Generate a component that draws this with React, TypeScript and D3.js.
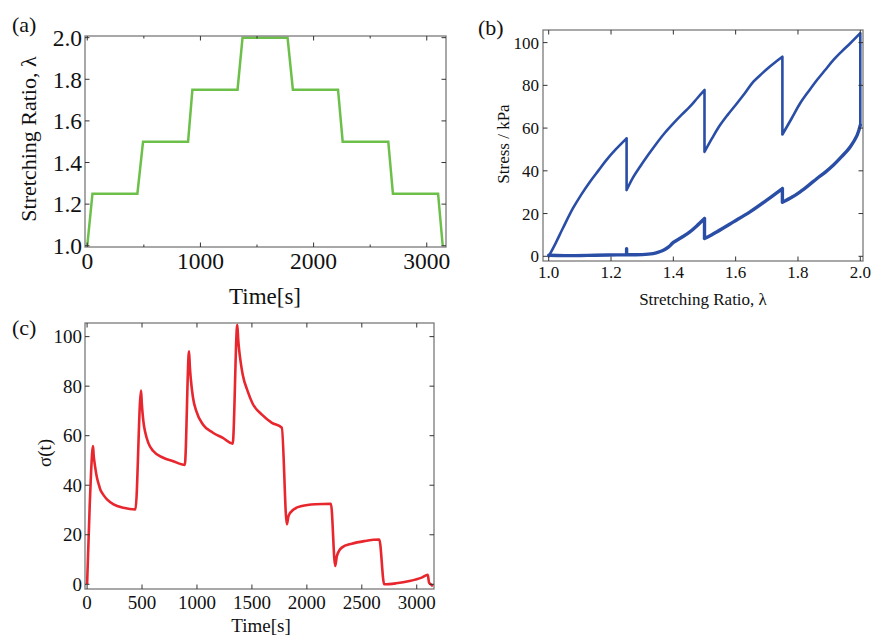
import React from "react";
import * as d3 from "d3";

// ---------- Data ----------
// (a) stretching ratio vs time
const lambdaTime = [0, 46, 443, 493, 891, 929, 1328, 1372, 1770, 1817, 2216, 2257, 2660, 2701, 3100, 3141];
const lambdaValue = [1.0, 1.25, 1.25, 1.5, 1.5, 1.75, 1.75, 2.0, 2.0, 1.75, 1.75, 1.5, 1.5, 1.25, 1.25, 1.0];

// (b) stress vs stretching ratio: loading branch and unloading branch
const loadLambda = [1.0, 1.02, 1.045, 1.078, 1.105, 1.132, 1.16, 1.185, 1.215, 1.25, 1.25, 1.27, 1.293, 1.32, 1.346, 1.373, 1.4, 1.427, 1.453, 1.478, 1.5, 1.5, 1.525, 1.55, 1.575, 1.6, 1.63, 1.657, 1.685, 1.71, 1.73, 1.75, 1.75, 1.78, 1.807, 1.835, 1.861, 1.888, 1.914, 1.94, 1.968, 2.0, 2.0];
const loadStress = [0, 5.5, 13, 22.5, 29, 34.8, 40.2, 45, 50, 55.2, 31, 36.7, 41.9, 47.6, 52.8, 57.8, 62.2, 66.3, 70, 74.2, 77.8, 48.9, 55.4, 61.4, 66.3, 70.8, 76.4, 81.7, 85.6, 88.8, 91.2, 93.4, 57, 64.6, 71.6, 77.4, 82.5, 87.3, 91.9, 95.8, 99.7, 104.4, 61.4];
const unloadLambda = [2.0, 1.99, 1.968, 1.94, 1.914, 1.888, 1.861, 1.834, 1.807, 1.78, 1.75, 1.75, 1.7, 1.646, 1.593, 1.539, 1.5, 1.5, 1.475, 1.453, 1.426, 1.4, 1.385, 1.368, 1.35, 1.335, 1.3, 1.25, 1.25, 1.25, 1.15, 1.05, 1.0];
const unloadStress = [61.4, 56.7, 51.3, 46.6, 42.7, 39.4, 36.4, 33.2, 30.2, 27.6, 25.3, 31.7, 26.3, 20.8, 16.1, 11.4, 8.3, 17.7, 14.2, 11.4, 8.8, 6.5, 4.4, 2.8, 1.8, 1.25, 0.8, 0.8, 3.6, 0.8, 0.5, 0.3, 0.5];

// (c) stress vs time
const sigmaTime = [0, 12, 24, 36, 54, 60, 66, 78, 90, 105, 120, 150, 181, 241, 331, 440,
  491, 498, 506, 516, 527, 557, 602, 693, 783, 889,
  928, 935, 943, 964, 994, 1054, 1145, 1235, 1325,
  1367, 1375, 1385, 1400, 1416, 1461, 1506, 1591, 1682, 1772,
  1818, 1833, 1879, 1955, 2076, 2219,
  2258, 2273, 2318, 2409, 2530, 2659,
  2704, 2812, 2933, 3045, 3100, 3112, 3136, 3147];
const sigmaValue = [0, 16, 32, 45, 55.8, 52, 49.7, 46, 43, 40.5, 38.3, 36, 34.3, 32.3, 30.9, 30.2,
  78.2, 73, 68.5, 64.5, 61.8, 57.1, 53.8, 51.1, 49.7, 48.2,
  94.1, 88, 83.3, 75.3, 69.9, 64.5, 61.2, 59.1, 56.8,
  104.8, 99, 94.1, 89, 84.7, 78, 73, 68.5, 65.2, 63.2,
  24.2, 27.6, 30.2, 31.6, 32.3, 32.5,
  7.4, 11.4, 14.8, 16.4, 17.5, 18.1,
  0, 0.4, 1.3, 2.7, 3.8, 0.7, -0.3, -0.8];

// tick values
const aXTicks = [0, 1000, 2000, 3000];
const aXMinor = [500, 1500, 2500];
const aYTicks = [1.0, 1.2, 1.4, 1.6, 1.8, 2.0];
const bXTicks = [1.0, 1.2, 1.4, 1.6, 1.8, 2.0];
const bYTicks = [0, 20, 40, 60, 80, 100];
const cXTicks = [0, 500, 1000, 1500, 2000, 2500, 3000];
const cYTicks = [0, 20, 40, 60, 80, 100];

const FONT = "'Liberation Serif', 'Times New Roman', serif";
const FRAME = "#7a7a7a";
const TICK = "#333";
const TEXT = "#111";

type Sc = d3.ScaleLinear<number, number>;

type PanelProps = {
  x0: number; x1: number; y0: number; y1: number;
  xDomain: [number, number]; yDomain: [number, number];
  xTicks: number[]; xMinor?: number[]; yTicks: number[];
  xFmt: (v: number) => string; yFmt: (v: number) => string;
  fontSize: number; xLabelDy: number; yLabelDx: number;
  children: (x: Sc, y: Sc) => React.ReactNode;
};

function Panel(p: PanelProps) {
  const x = d3.scaleLinear().domain(p.xDomain).range([p.x0, p.x1]);
  const y = d3.scaleLinear().domain(p.yDomain).range([p.y1, p.y0]);
  const tl = 4.5;
  const ml = 2.5;
  const id = `clip-${p.x0}-${p.y0}`;
  return (
    <g>
      <defs>
        <clipPath id={id}>
          <rect x={p.x0} y={p.y0 - 2} width={p.x1 - p.x0 + 1} height={p.y1 - p.y0 + 4} />
        </clipPath>
      </defs>
      <g clipPath={`url(#${id})`}>{p.children(x, y)}</g>
      <rect x={p.x0} y={p.y0} width={p.x1 - p.x0} height={p.y1 - p.y0} fill="none" stroke={FRAME} strokeWidth={1.3} />
      {p.xTicks.map((t) => (
        <g key={"xt" + t}>
          <line x1={x(t)} x2={x(t)} y1={p.y1} y2={p.y1 - tl} stroke={TICK} strokeWidth={1} />
          <line x1={x(t)} x2={x(t)} y1={p.y0} y2={p.y0 + tl} stroke={TICK} strokeWidth={1} />
          <text x={x(t)} y={p.y1 + p.xLabelDy} textAnchor="middle" fontFamily={FONT} fontSize={p.fontSize} fill={TEXT}>{p.xFmt(t)}</text>
        </g>
      ))}
      {(p.xMinor || []).map((t) => (
        <g key={"xm" + t}>
          <line x1={x(t)} x2={x(t)} y1={p.y1} y2={p.y1 - ml} stroke={TICK} strokeWidth={1} />
          <line x1={x(t)} x2={x(t)} y1={p.y0} y2={p.y0 + ml} stroke={TICK} strokeWidth={1} />
        </g>
      ))}
      {p.yTicks.map((t) => (
        <g key={"yt" + t}>
          <line x1={p.x0} x2={p.x0 + tl} y1={y(t)} y2={y(t)} stroke={TICK} strokeWidth={1} />
          <line x1={p.x1} x2={p.x1 - tl} y1={y(t)} y2={y(t)} stroke={TICK} strokeWidth={1} />
          <text x={p.x0 - p.yLabelDx} y={y(t)} dy="0.35em" textAnchor="end" fontFamily={FONT} fontSize={p.fontSize} fill={TEXT}>{p.yFmt(t)}</text>
        </g>
      ))}
    </g>
  );
}

// Split a series into smooth runs separated by vertical jumps (equal x)
function segmentedPath(xs: number[], ys: number[], x: Sc, y: Sc): string {
  const pts = xs.map((v, i) => [x(v), y(ys[i])] as [number, number]);
  const runs: [number, number][][] = [];
  let cur: [number, number][] = [pts[0]];
  let jumps = "";
  for (let i = 1; i < pts.length; i++) {
    if (xs[i] === xs[i - 1]) {
      runs.push(cur);
      jumps += `M${pts[i - 1][0]},${pts[i - 1][1]}L${pts[i][0]},${pts[i][1]}`;
      cur = [pts[i]];
    } else {
      cur.push(pts[i]);
    }
  }
  runs.push(cur);
  const gen = d3.line().curve(d3.curveCatmullRom.alpha(0.5));
  let d = jumps;
  runs.forEach((r) => {
    if (r.length > 1) d += gen(r) || "";
  });
  return d;
}

export default function App() {
  const f1 = d3.format(".1f");
  const f0 = d3.format("d");
  const lineA = (x: Sc, y: Sc) =>
    d3.line<number>().x((_, i) => x(lambdaTime[i])).y((_, i) => y(lambdaValue[i]))(lambdaValue) || "";
  const lineC = (x: Sc, y: Sc) =>
    d3.line<number>().curve(d3.curveMonotoneX).x((_, i) => x(sigmaTime[i])).y((_, i) => y(sigmaValue[i]))(sigmaValue) || "";

  return (
    <div style={{ position: "absolute", left: 0, top: 0 }}>
      <style>{`body{margin:0}`}</style>
      <svg width={874} height={638} style={{ display: "block", background: "#fff" }}>
        {/* (a) */}
        <text x={12} y={32} fontFamily={FONT} fontSize={22} fill={TEXT}>(a)</text>
        <Panel x0={85} x1={446} y0={36} y1={247} xDomain={[-20, 3170]} yDomain={[0.994, 2.008]}
          xTicks={aXTicks} xMinor={aXMinor} yTicks={aYTicks} xFmt={f0} yFmt={f1}
          fontSize={23.5} xLabelDy={22} yLabelDx={3}>
          {(x, y) => <path d={lineA(x, y)} fill="none" stroke="#6cc04a" strokeWidth={2.5} />}
        </Panel>
        <text x={265} y={304} textAnchor="middle" fontFamily={FONT} fontSize={23} fill={TEXT}>Time[s]</text>
        <text transform="translate(36,139) rotate(-90)" textAnchor="middle" fontFamily={FONT} fontSize={22} fill={TEXT}>Stretching Ratio, λ</text>

        {/* (b) */}
        <text x={478} y={35} fontFamily={FONT} fontSize={22} fill={TEXT}>(b)</text>
        <Panel x0={543} x1={863} y0={30} y1={261} xDomain={[0.9817, 2.0087]} yDomain={[-2.2, 105.9]}
          xTicks={bXTicks} yTicks={bYTicks} xFmt={f1} yFmt={f0}
          fontSize={17} xLabelDy={17} yLabelDx={4}>
          {(x, y) => (
            <g>
              <path d={segmentedPath(loadLambda, loadStress, x, y)} fill="none" stroke="#2a4ea6" strokeWidth={2.6} strokeLinejoin="round" strokeLinecap="round" />
              <path d={segmentedPath(unloadLambda, unloadStress, x, y)} fill="none" stroke="#2a4ea6" strokeWidth={3.4} strokeLinejoin="round" strokeLinecap="round" />
            </g>
          )}
        </Panel>
        <text x={703} y={305} textAnchor="middle" fontFamily={FONT} fontSize={17} fill={TEXT}>Stretching Ratio, λ</text>
        <text transform="translate(509,144) rotate(-90)" textAnchor="middle" fontFamily={FONT} fontSize={17} fill={TEXT}>Stress / kPa</text>

        {/* (c) */}
        <text x={12} y={335} fontFamily={FONT} fontSize={22} fill={TEXT}>(c)</text>
        <Panel x0={85} x1={434} y0={323} y1={589} xDomain={[-19, 3157]} yDomain={[-1.9, 105.5]}
          xTicks={cXTicks} yTicks={cYTicks} xFmt={f0} yFmt={f0}
          fontSize={19} xLabelDy={20} yLabelDx={3}>
          {(x, y) => <path d={lineC(x, y)} fill="none" stroke="#e8262e" strokeWidth={2.6} strokeLinejoin="round" />}
        </Panel>
        <text x={261} y={632} textAnchor="middle" fontFamily={FONT} fontSize={19} fill={TEXT}>Time[s]</text>
        <text transform="translate(51,453) rotate(-90)" textAnchor="middle" fontFamily={FONT} fontSize={19} fill={TEXT}>σ(t)</text>
      </svg>
    </div>
  );
}
